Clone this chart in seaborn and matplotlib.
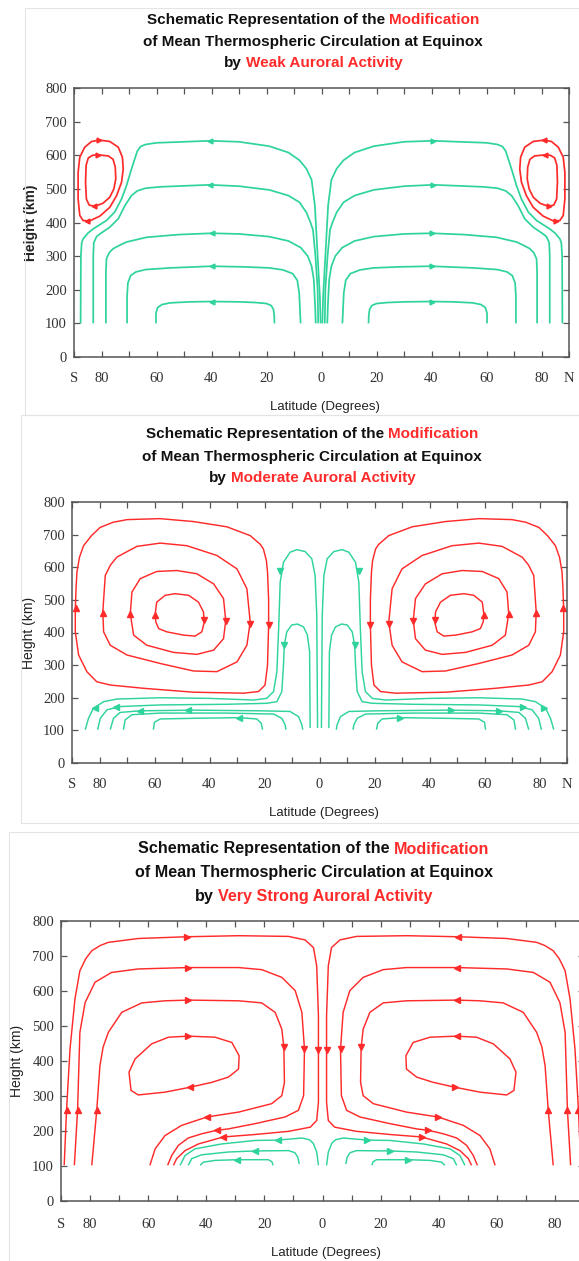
import numpy as np
import pandas as pd
import matplotlib
matplotlib.use("Agg")
import matplotlib.pyplot as plt
import seaborn as sns
from matplotlib.patches import Rectangle

sns.set_theme(style="white")
plt.rcParams["font.family"] = ["Liberation Sans", "DejaVu Sans"]

GREEN = "#2fd39c"
RED = "#ff2b2b"

# ---------------- tick labels ----------------
XTICKS = [-90, -80, -60, -40, -20, 0, 20, 40, 60, 80, 90]
XTICK_LABELS = ["S", "80", "60", "40", "20", "0", "20", "40", "60", "80", "N"]
YTICKS = [0, 100, 200, 300, 400, 500, 600, 700, 800]

TITLES = {
    "weak": "Weak Auroral Activity",
    "moderate": "Moderate Auroral Activity",
    "strong": "Very Strong Auroral Activity",
}

# ---------------- Panel 1: weak (southern half; northern half is its mirror) ----------------
weak_green_1 = [(-60.2, 100), (-60.2, 130), (-59.6, 147), (-58, 156), (-55, 161), (-48, 164), (-40, 165),
                (-30, 164), (-24, 162), (-20, 159), (-18.3, 153), (-17.5, 142), (-17.2, 125), (-17.1, 100)]
weak_green_2 = [(-70.7, 100), (-70.7, 180), (-70.4, 220), (-69.4, 242), (-67.5, 253), (-64, 260), (-55, 265),
                (-40, 270), (-28, 268), (-19, 265), (-14, 259), (-10.5, 248), (-8.8, 228), (-8.1, 190), (-7.6, 100)]
weak_green_3 = [(-78.4, 100), (-78.4, 250), (-78.2, 292), (-77.2, 310), (-75.8, 322), (-73, 334), (-70.9, 342),
                (-63.6, 356), (-52, 364), (-40, 368), (-30, 366), (-19, 358), (-12, 345), (-7.5, 325),
                (-5, 300), (-3.6, 270), (-2.8, 230), (-2.3, 150), (-2.1, 100)]
weak_green_4 = [(-83, 100), (-83, 300), (-82.8, 340), (-81.8, 358), (-80.4, 367), (-77, 386), (-73.9, 411),
                (-71.5, 450), (-69.1, 480), (-67, 494), (-64, 502), (-58.8, 506), (-50, 509), (-40.6, 512),
                (-30, 508), (-19, 497), (-12, 480), (-8, 460), (-5.5, 430), (-4.0, 400), (-3.1, 378),
                (-2.2, 300), (-1.4, 200), (-1.2, 100)]
weak_green_5 = [(-87.6, 100), (-87.5, 300), (-87.2, 340), (-86.7, 351), (-85, 368), (-83, 381), (-78.2, 406),
                (-75.2, 431), (-72.7, 470), (-70.9, 510), (-69.1, 559), (-67, 612), (-65.8, 626), (-64, 632),
                (-60, 637), (-50, 640), (-40.6, 643), (-30, 640), (-19, 627), (-12, 608), (-8, 585),
                (-5.5, 560), (-3.6, 527), (-2.4, 450), (-1.4, 300), (-0.6, 180), (-0.3, 100)]
weak_red_outer = [(-80.8, 645), (-77, 641), (-73.9, 624), (-72.4, 594), (-72.1, 559), (-72.7, 520), (-74.5, 480),
                  (-77, 445), (-80.6, 419), (-84.5, 404), (-86.7, 406), (-87.9, 421), (-88.5, 470), (-88.5, 549),
                  (-87.9, 594), (-86.1, 624), (-83.6, 641), (-80.8, 645)]
weak_red_inner = [(-81.2, 601), (-77.5, 598), (-75.8, 588), (-75, 565), (-74.8, 530), (-75.5, 500), (-77, 475),
                  (-79.5, 457), (-82.5, 448), (-84.5, 452), (-85.5, 470), (-85.8, 520), (-85.6, 570),
                  (-84.8, 592), (-83.2, 600), (-81.2, 601)]
weak_green_arrows = [(-40, 165, "<"), (-40, 270, "<"), (-40, 368, "<"), (-40.6, 512, "<"), (-40.6, 643, "<")]
weak_red_arrows = [(-80.8, 645, ">"), (-81.2, 601, ">"), (-82.8, 448, "<"), (-85.2, 404, "<")]

# ---------------- Panel 2: moderate ----------------
mod_red_1 = [(-88.8, 473), (-88.5, 540), (-88.2, 585), (-87.3, 630), (-85.8, 666), (-83, 696), (-79.8, 722),
             (-75, 738), (-70, 746), (-58, 749), (-45.8, 740), (-33.7, 724), (-25.2, 697), (-21.5, 670),
             (-20.4, 656), (-19.3, 620), (-18.9, 585), (-18.5, 500), (-18.5, 422), (-18.9, 300), (-19.8, 239),
             (-22.2, 219), (-27.6, 214), (-45.8, 217), (-64, 229), (-76.1, 239), (-81, 249), (-84.6, 280),
             (-87.6, 331), (-88.8, 402), (-88.8, 473)]
mod_red_2 = [(-78.8, 463), (-77.9, 575), (-76, 607), (-73.7, 631), (-66.4, 664), (-57.9, 674), (-48.2, 666),
             (-37.3, 636), (-30, 595), (-26.4, 534), (-25.2, 432), (-26.4, 361), (-30, 310), (-37.3, 280),
             (-45.8, 282), (-57.9, 305), (-70, 331), (-76.1, 361), (-78.5, 402), (-78.8, 463)]
mod_red_3 = [(-68.8, 458), (-68.2, 524), (-65.2, 565), (-59.2, 587), (-51.9, 590), (-44.6, 580), (-38.5, 549),
             (-34.9, 504), (-34.1, 437), (-34.9, 381), (-38.5, 346), (-44.6, 333), (-53.1, 339), (-62.8, 361),
             (-67.6, 392), (-68.8, 458)]
mod_red_4 = [(-59.8, 453), (-59.2, 493), (-56.1, 514), (-52.5, 519), (-47.6, 514), (-44, 493), (-42.2, 463),
             (-41.9, 432), (-42.8, 402), (-45.2, 389), (-49.5, 392), (-55.5, 402), (-58.5, 412), (-59.5, 432),
             (-59.8, 453)]
mod_green_1 = [(-85.2, 102), (-84, 137), (-82.2, 168), (-78.5, 188), (-73.7, 196), (-57.9, 200), (-39.8, 198),
               (-24, 193), (-19.2, 198), (-16.7, 219), (-15.5, 280), (-14.9, 402), (-14.3, 554), (-13.1, 615),
               (-10.7, 646), (-8.2, 654), (-5.2, 648), (-2.8, 626), (-1.6, 575), (-1, 453), (-0.7, 107)]
mod_green_2 = [(-80.7, 102), (-79.7, 137), (-77.3, 163), (-72.5, 173), (-57.9, 178), (-33.7, 180), (-19.2, 183),
               (-15.5, 188), (-13.7, 219), (-13.1, 300), (-12.8, 361), (-11.9, 402), (-10.1, 423), (-8, 426),
               (-5.8, 417), (-4.4, 392), (-3.6, 341), (-3.4, 107)]
mod_green_3 = [(-76.1, 102), (-74.9, 137), (-72.5, 155), (-65.2, 160), (-45.8, 162), (-21.6, 160), (-10.7, 158),
               (-7.6, 142), (-6.4, 117), (-6.1, 102)]
mod_green_4 = [(-71.3, 102), (-70.7, 132), (-68.2, 148), (-57.9, 153), (-33.7, 153), (-16.7, 150), (-13.7, 137),
               (-12.5, 117), (-12.2, 102)]
mod_green_5 = [(-60.4, 102), (-60, 125), (-57.9, 135), (-45.8, 137), (-29.2, 139), (-22.8, 135), (-21.2, 122),
               (-20.7, 102)]
mod_red_arrows = [(-88.5, 475, "^"), (-78.6, 460, "^"), (-68.8, 456, "^"), (-59.8, 453, "^"),
                  (-41.9, 437, "v"), (-34.1, 434, "v"), (-25.2, 427, "v"), (-18.5, 424, "v")]
mod_green_arrows = [(-14.3, 587, "v"), (-12.8, 361, "v"), (-81.7, 170, "<"), (-73.9, 173, "<"),
                    (-65.2, 160, "<"), (-47.9, 162, "<"), (-29.2, 139, "<")]

# ---------------- Panel 3: very strong ----------------
strong_red_1 = [(-88.9, 102), (-88.1, 259), (-86.9, 434), (-85.2, 577), (-83.5, 658), (-81.5, 692), (-79.4, 715),
                (-76.5, 730), (-73.7, 739), (-63.4, 750), (-46.7, 755), (-28.9, 758), (-11.7, 756), (-6, 746),
                (-3.1, 724), (-2, 672), (-1.4, 530), (-1.4, 430), (-1.4, 282), (-2, 230), (-4.2, 211),
                (-11.7, 199), (-23.2, 190), (-34.1, 183), (-42.7, 163), (-47.3, 144), (-50.2, 121), (-51.3, 102)]
strong_red_2 = [(-85.4, 102), (-84.3, 259), (-83.5, 482), (-81.7, 567), (-78.3, 625), (-72.6, 653), (-63.4, 663),
                (-46.2, 667), (-28.9, 667), (-20.9, 661), (-14, 639), (-9.4, 601), (-7.1, 539), (-6.2, 434),
                (-6.5, 301), (-8.3, 259), (-12.9, 240), (-23.2, 221), (-32.4, 206), (-36.4, 202), (-41.6, 192),
                (-46.2, 180), (-49.6, 159), (-51.9, 130), (-53.3, 102)]
strong_red_3 = [(-79.4, 102), (-77.7, 259), (-76.6, 387), (-75.5, 440), (-73.7, 482), (-69.1, 539), (-62.2, 566),
                (-54.2, 572), (-46.2, 574), (-28.9, 572), (-20.9, 566), (-16.3, 539), (-14, 491), (-13.3, 439),
                (-13.1, 339), (-14, 301), (-17.5, 278), (-28.9, 254), (-39.8, 240), (-48.5, 216), (-54.2, 187),
                (-57.6, 149), (-59.4, 102)]
strong_red_4 = [(-46.2, 471), (-37, 468), (-31.2, 453), (-28.7, 415), (-28.9, 377), (-32.4, 354), (-38.1, 339),
                (-45.6, 325), (-54.2, 311), (-63.4, 303), (-65.9, 316), (-66.6, 368), (-64.5, 406), (-58.8, 449),
                (-53, 468), (-46.2, 471)]
strong_green_1 = [(-49, 102), (-47.3, 130), (-43.9, 149), (-34.7, 163), (-23.2, 173), (-15.4, 174), (-7.1, 180),
                  (-4.5, 175), (-3.2, 165), (-2, 140), (-1.4, 102)]
strong_green_2 = [(-46.2, 102), (-45, 121), (-41.6, 132), (-32.4, 140), (-23.2, 143), (-11.7, 144), (-9.5, 138),
                  (-8.5, 125), (-8, 106)]
strong_green_3 = [(-42.1, 102), (-41, 111), (-37, 116), (-29.5, 118), (-18.6, 118), (-17.4, 112), (-17, 102)]
strong_red_arrows = [(-88.1, 259, "^"), (-84.3, 259, "^"), (-77.7, 259, "^"),
                     (-46.7, 755, ">"), (-46.2, 667, ">"), (-46.2, 574, ">"), (-46.2, 471, ">"),
                     (-1.4, 432, "v"), (-6.2, 434, "v"), (-13.3, 439, "v"),
                     (-45.6, 325, "<"), (-39.8, 240, "<"), (-36.4, 202, "<"), (-34.1, 183, "<")]
strong_green_arrows = [(-15.4, 174, "<"), (-23.2, 143, "<"), (-29.5, 118, "<")]

FLIP = {"<": ">", ">": "<", "^": "^", "v": "v"}

W, H = 579, 1261
fig = plt.figure(figsize=(W / 100, H / 100), dpi=100)
fig.patch.set_facecolor("white")


def px_rect(l, r, t, b):
    return [l / W, 1 - b / H, (r - l) / W, (b - t) / H]


# faint screenshot frames
for (l, t, r, b) in [(25, 8, 590, 415), (21, 415, 590, 823), (9, 832, 590, 1275)]:
    fig.add_artist(Rectangle((l / W, 1 - b / H), (r - l) / W, (b - t) / H, transform=fig.transFigure,
                             fill=False, edgecolor="#e4e4e4", lw=0.8))


def draw_curve(ax, pts, color, lw):
    df = pd.DataFrame(pts, columns=["lat", "h"])
    for sgn in (1, -1):
        sns.lineplot(x=df["lat"].values * sgn, y=df["h"].values, sort=False, estimator=None,
                     color=color, lw=lw, ax=ax, solid_joinstyle="round", solid_capstyle="butt")


def draw_arrows(ax, arrows, color, ms):
    for lat, h, m in arrows:
        ax.plot([lat], [h], marker=m, color=color, ms=ms, mec=color, ls="none")
        ax.plot([-lat], [h], marker=FLIP[m], color=color, ms=ms, mec=color, ls="none")


def style_axes(ax, bold_ylabel, xlab_xy, ylab_x, tick_pad):
    ax.set_xlim(-90, 90)
    ax.set_ylim(0, 800)
    ax.set_xticks(XTICKS, labels=XTICK_LABELS, fontfamily=["Liberation Serif", "DejaVu Serif"],
                  fontsize=10.5, color="#333333")
    ax.set_xticks([-70, -50, -30, -10, 10, 30, 50, 70], minor=True)
    ax.set_yticks(YTICKS, labels=[str(v) for v in YTICKS], fontfamily=["Liberation Serif", "DejaVu Serif"],
                  fontsize=10.5, color="#333333")
    ax.tick_params(which="both", direction="in", top=True, right=True, bottom=True, left=True,
                   length=4, width=0.9, color="#555555")
    ax.tick_params(axis="x", which="major", pad=tick_pad)
    ax.tick_params(axis="y", which="major", pad=5)
    for s in ax.spines.values():
        s.set_color("#555555")
        s.set_linewidth(1.1)
    ax.set_xlabel("Latitude (Degrees)", fontsize=9.5, color="#222222")
    ax.xaxis.label.set_va("center")
    ax.xaxis.set_label_coords(*xlab_xy)
    ax.set_ylabel("Height (km)", fontsize=10, color="#222222",
                  fontweight="bold" if bold_ylabel else "normal")
    ax.yaxis.label.set_va("center")
    ax.yaxis.set_label_coords(ylab_x, 0.5)
    ax.grid(False)


def mixed_line(y_px, cx_px, segments, size):
    renderer = fig.canvas.get_renderer()
    kw = dict(fontsize=size, fontweight="bold", va="center", ha="left", transform=fig.transFigure)
    a = fig.text(0, 0, "x x", **kw)
    b = fig.text(0, 0, "xx", **kw)
    space = a.get_window_extent(renderer).width - b.get_window_extent(renderer).width
    a.remove()
    b.remove()
    texts, widths = [], []
    for txt, col in segments:
        t = fig.text(0, 1 - y_px / H, txt, color=col, **kw)
        texts.append(t)
        widths.append(t.get_window_extent(renderer).width)
    total = sum(widths) + space * (len(segments) - 1)
    x = cx_px - total / 2
    for t, w in zip(texts, widths):
        t.set_x(x / W)
        x += w + space


def title_block(ys, cx, level, size):
    mixed_line(ys[0], cx, [("Schematic Representation of the", "#111111"), ("Modification", RED)], size)
    mixed_line(ys[1], cx, [("of Mean Thermospheric Circulation at Equinox", "#111111")], size)
    mixed_line(ys[2], cx, [("by", "#111111"), (TITLES[level], RED)], size)


# ---- Panel 1 ----
ax1 = fig.add_axes(px_rect(74, 569, 88, 357))
for c in [weak_green_1, weak_green_2, weak_green_3, weak_green_4, weak_green_5]:
    draw_curve(ax1, c, GREEN, 1.25)
for c in [weak_red_outer, weak_red_inner]:
    draw_curve(ax1, c, RED, 1.25)
draw_arrows(ax1, weak_green_arrows, GREEN, 3.5)
draw_arrows(ax1, weak_red_arrows, RED, 3.5)
style_axes(ax1, True, ((325 - 74) / 495, (357 - 407) / 269), (31 - 74) / 495, 11)
title_block((20, 42, 63), 313, "weak", 11)

# ---- Panel 2 ----
ax2 = fig.add_axes(px_rect(72, 567, 502, 763))
for c in [mod_red_1, mod_red_2, mod_red_3, mod_red_4]:
    draw_curve(ax2, c, RED, 1.05)
for c in [mod_green_1, mod_green_2, mod_green_3, mod_green_4, mod_green_5]:
    draw_curve(ax2, c, GREEN, 1.05)
draw_arrows(ax2, mod_red_arrows, RED, 4.5)
draw_arrows(ax2, mod_green_arrows, GREEN, 4.0)
style_axes(ax2, False, ((324 - 72) / 495, (763 - 813) / 261), (29 - 72) / 495, 11)
title_block((434, 457, 478), 312, "moderate", 11)

# ---- Panel 3 ----
ax3 = fig.add_axes(px_rect(61, 584, 921, 1201))
for c in [strong_red_1, strong_red_2, strong_red_3, strong_red_4]:
    draw_curve(ax3, c, RED, 1.05)
for c in [strong_green_1, strong_green_2, strong_green_3]:
    draw_curve(ax3, c, GREEN, 1.05)
draw_arrows(ax3, strong_red_arrows, RED, 4.5)
draw_arrows(ax3, strong_green_arrows, GREEN, 4.0)
style_axes(ax3, False, ((326 - 61) / 523, (1201 - 1253) / 280), (17 - 61) / 523, 12)
title_block((849, 872, 896), 314, "strong", 11.6)

fig.savefig("out.png", dpi=100, facecolor="white")
